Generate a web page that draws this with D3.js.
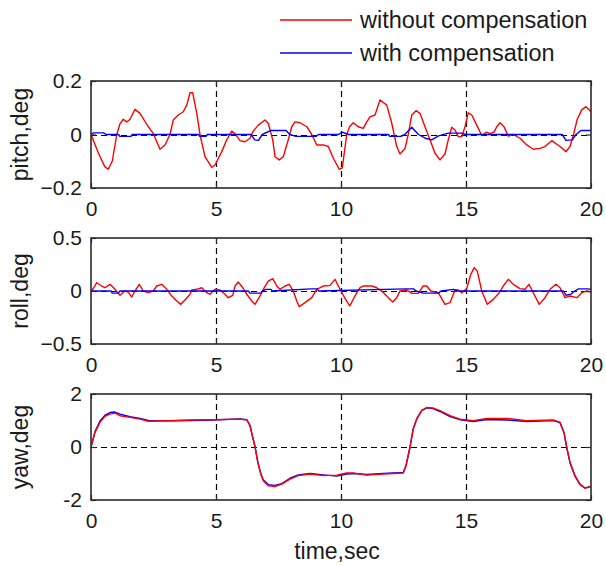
<!DOCTYPE html>
<html>
<head>
<meta charset="utf-8">
<script src="https://cdn.jsdelivr.net/npm/d3@7"></script>
<style>
  html, body { margin: 0; padding: 0; background: #fff; }
  svg { display: block; }
  text { font-family: "Liberation Sans", Arial, sans-serif; fill: #1a1a1a; }
</style>
</head>
<body>
<svg id="chart" width="606" height="566"></svg>
<script>
// ---------------- data ----------------
const timeDomain = [0, 20];
const xTicks = [0, 5, 10, 15, 20];
const seriesNames = ["without compensation", "with compensation"];

const pitchTicks = [-0.2, 0, 0.2];
const rollTicks = [-0.5, 0, 0.5];
const yawTicks = [-2, 0, 2];

// [time (s), value (deg)]
const pitchWithout = [[0,0],[0.3,-0.07],[0.55,-0.12],[0.69,-0.13],[0.85,-0.1],[1.03,0],[1.16,0.04],[1.29,0.057],[1.43,0.047],[1.56,0.057],[1.76,0.094],[1.96,0.079],[2.29,0.029],[2.49,0.004],[2.76,-0.055],[2.96,-0.039],[3.16,0],[3.29,0.054],[3.49,0.073],[3.69,0.085],[3.83,0.11],[3.96,0.156],[4.07,0.156],[4.23,0.079],[4.36,0],[4.56,-0.083],[4.83,-0.123],[4.96,-0.114],[5.23,-0.064],[5.43,-0.02],[5.63,0.0125],[5.76,0.003],[5.96,-0.023],[6.16,-0.027],[6.36,-0.014],[6.49,0.0125],[6.69,0.035],[6.96,0.054],[7.09,0.042],[7.27,-0.02],[7.36,-0.083],[7.53,-0.095],[7.69,-0.083],[7.89,-0.02],[8.03,0.029],[8.16,0.047],[8.36,0.044],[8.63,0.029],[8.83,0],[9.03,-0.039],[9.29,-0.039],[9.49,-0.045],[9.69,-0.088],[9.93,-0.13],[10.05,-0.125],[10.23,0],[10.35,0.03],[10.49,0.044],[10.69,0.029],[10.89,0.023],[11.03,0.047],[11.16,0.066],[11.36,0.073],[11.56,0.129],[11.83,0.11],[12.03,0.042],[12.23,-0.045],[12.36,-0.073],[12.56,-0.052],[12.69,0],[12.83,0.073],[13.0,0.089],[13.16,0.079],[13.36,0.029],[13.56,-0.02],[13.76,-0.07],[13.96,-0.095],[14.16,-0.073],[14.29,-0.02],[14.43,0.027],[14.56,0.017],[14.69,-0.008],[14.83,-0.008],[14.96,0.029],[15.09,0.081],[15.23,0.073],[15.43,0.035],[15.63,-0.004],[15.83,0.009],[15.96,0.003],[16.12,0.009],[16.23,0.029],[16.36,0.044],[16.52,0.029],[16.69,-0.006],[16.89,0],[17.16,-0.014],[17.43,-0.039],[17.69,-0.055],[17.96,-0.052],[18.16,-0.045],[18.43,-0.023],[18.76,-0.045],[19.0,-0.064],[19.16,-0.045],[19.29,-0.004],[19.45,0.057],[19.63,0.092],[19.8,0.104],[20,0.085]];
const pitchWith = [[0,0],[0.1,0.006],[0.5,0.006],[0.6,0],[1.1,0],[1.15,-0.007],[1.6,-0.007],[1.65,0],[4.3,0],[4.35,-0.007],[4.6,-0.007],[4.65,0],[6.4,0],[6.55,-0.02],[6.7,-0.022],[6.85,0],[7.2,0.015],[7.8,0.015],[7.95,0],[8.2,-0.007],[9.0,-0.007],[9.1,0],[9.9,0],[10.05,0.009],[10.3,0],[11.9,0],[11.95,-0.007],[12.4,-0.007],[12.55,0],[12.83,0.027],[13.1,0],[13.4,-0.015],[13.63,-0.02],[13.9,-0.005],[14.3,0.005],[14.8,0.005],[15.0,0],[18.85,0],[19.0,-0.022],[19.25,-0.02],[19.4,0],[19.6,0.015],[20,0.015]];

const rollWithout = [[0,0],[0.07,0.016],[0.23,0.078],[0.43,0.047],[0.56,0.031],[0.76,0.063],[0.96,0.016],[1.16,-0.041],[1.36,0],[1.49,-0.01],[1.63,-0.057],[1.76,0],[1.93,0.063],[2.09,0],[2.29,-0.016],[2.49,0],[2.63,0.047],[2.83,0.063],[3.03,0.016],[3.23,-0.047],[3.43,-0.094],[3.59,-0.126],[3.76,-0.085],[3.96,-0.031],[4.03,0.01],[4.23,0.016],[4.43,0.031],[4.63,-0.016],[4.76,-0.031],[4.96,0.016],[5.16,0.01],[5.36,-0.031],[5.49,-0.063],[5.67,-0.041],[5.76,0.047],[5.89,0.085],[6.07,0.031],[6.23,-0.031],[6.43,-0.094],[6.56,-0.126],[6.76,-0.047],[6.89,0.016],[7.09,0.094],[7.27,0.116],[7.43,0.047],[7.56,0.016],[7.76,0.047],[7.93,0.063],[8.09,0],[8.23,-0.094],[8.33,-0.148],[8.56,-0.11],[8.83,-0.063],[9.03,0.016],[9.29,0.047],[9.56,0.053],[9.76,0.11],[9.93,0.031],[10.0,0],[10.16,-0.07],[10.35,-0.14],[10.56,-0.047],[10.76,0.031],[10.89,0.047],[11.23,0.047],[11.43,0.031],[11.63,0],[11.83,-0.047],[12.07,-0.104],[12.23,-0.063],[12.36,0],[12.63,0.01],[12.83,-0.022],[13.09,-0.022],[13.29,0.047],[13.43,0.047],[13.59,0],[13.89,-0.016],[14.16,-0.126],[14.36,-0.11],[14.56,0.01],[14.69,0.01],[14.83,-0.016],[15.03,0.022],[15.19,0.157],[15.33,0.22],[15.45,0.19],[15.63,0],[15.85,-0.126],[16.09,-0.079],[16.33,-0.016],[16.49,0.047],[16.69,0.11],[16.89,0.063],[17.16,0.022],[17.36,0.016],[17.52,0.063],[17.69,-0.016],[17.93,-0.126],[18.16,-0.063],[18.36,0.016],[18.6,0.063],[18.76,0.031],[18.96,-0.063],[19.16,-0.047],[19.43,-0.063],[19.63,-0.016],[19.83,0],[20,-0.01]];
const rollWith = [[0,0],[0.8,0],[0.85,-0.02],[1.1,-0.02],[1.15,0],[6.3,0],[6.35,-0.02],[6.8,-0.02],[6.85,0],[7.0,0.015],[7.2,0.015],[7.25,0],[8.8,0.02],[9.05,0.02],[9.1,0],[12.6,0.02],[12.9,0.02],[13.0,0],[13.3,-0.02],[13.9,-0.02],[14.0,0],[14.5,0.015],[14.7,0],[18.9,0],[19.0,-0.04],[19.2,-0.03],[19.35,0],[19.5,0.02],[19.9,0.02],[20,0.015]];

const yawWithout = [[0,0],[0.16,0.55],[0.36,0.93],[0.56,1.16],[0.76,1.24],[0.96,1.28],[1.16,1.18],[1.56,1.12],[1.96,1.05],[2.29,0.97],[3.16,0.99],[3.96,1.02],[4.89,1.03],[5.96,1.05],[6.23,1.02],[6.36,0.8],[6.45,0.43],[6.56,0],[6.67,-0.58],[6.79,-1.02],[6.89,-1.27],[7.09,-1.46],[7.36,-1.49],[7.63,-1.4],[7.96,-1.21],[8.29,-1.08],[8.76,-1.02],[9.29,-1.08],[9.83,-1.06],[10.23,-0.98],[10.49,-0.98],[11.03,-1.06],[11.69,-1.02],[12.49,-0.98],[12.6,-0.71],[12.76,-0.01],[12.89,0.68],[13.03,1.05],[13.23,1.37],[13.43,1.49],[13.69,1.47],[13.96,1.37],[14.36,1.18],[14.76,1.05],[15.29,0.99],[15.83,1.08],[16.63,1.08],[17.43,0.99],[18.49,1.02],[18.76,0.93],[18.92,0.55],[19.03,-0.01],[19.16,-0.58],[19.36,-1.08],[19.56,-1.4],[19.76,-1.56],[19.96,-1.49],[20,-1.49]];
const yawWith = [[0,0],[0.16,0.58],[0.36,0.98],[0.56,1.2],[0.76,1.3],[0.96,1.32],[1.16,1.24],[1.56,1.14],[1.96,1.08],[2.29,1.0],[3.16,0.99],[3.96,1.0],[4.89,1.02],[5.96,1.06],[6.23,1.03],[6.36,0.82],[6.45,0.45],[6.56,0.02],[6.67,-0.55],[6.79,-1.0],[6.89,-1.24],[7.09,-1.42],[7.36,-1.45],[7.63,-1.38],[7.96,-1.18],[8.29,-1.05],[8.76,-1.0],[9.29,-1.05],[9.83,-1.1],[10.23,-1.02],[10.49,-1.0],[11.03,-1.04],[11.69,-1.0],[12.49,-0.96],[12.6,-0.7],[12.76,0.0],[12.89,0.7],[13.03,1.07],[13.23,1.38],[13.43,1.48],[13.69,1.45],[13.96,1.34],[14.36,1.15],[14.76,1.03],[15.29,0.96],[15.83,1.04],[16.63,1.02],[17.43,0.96],[18.49,1.0],[18.76,0.92],[18.92,0.54],[19.03,-0.02],[19.16,-0.6],[19.36,-1.1],[19.56,-1.42],[19.76,-1.54],[19.96,-1.5],[20,-1.49]];

const panels = [
  { label: "pitch,deg", domain: [-0.2, 0.2], ticks: pitchTicks, tickFmt: d => d === 0 ? "0" : d3.format(".1f")(d), without: pitchWithout, with: pitchWith, blueOnTop: true, top: 81, bottom: 188 },
  { label: "roll,deg", domain: [-0.5, 0.5], ticks: rollTicks, tickFmt: d => d === 0 ? "0" : d3.format(".1f")(d), without: rollWithout, with: rollWith, blueOnTop: true, top: 238, bottom: 344 },
  { label: "yaw,deg", domain: [-2, 2], ticks: yawTicks, tickFmt: d => String(d), without: yawWithout, with: yawWith, blueOnTop: false, top: 394, bottom: 500 }
];

// ---------------- drawing ----------------
const svg = d3.select("#chart");
const left = 91, right = 591;
const RED = "#ff0000", BLUE = "#0000ff", FRAME = "#2b2b2b";
const x = d3.scaleLinear().domain(timeDomain).range([left, right]);
const crisp = v => Math.round(v) + 0.5;

panels.forEach((p, i) => {
  const y = d3.scaleLinear().domain(p.domain).range([p.bottom, p.top]);
  const g = svg.append("g");
  const clipId = "clip" + i;
  svg.append("clipPath").attr("id", clipId).append("rect")
    .attr("x", left).attr("y", p.top).attr("width", right - left).attr("height", p.bottom - p.top);

  // grid
  const grid = g.append("g").attr("stroke", "#000").attr("stroke-width", 1.2).attr("stroke-dasharray", "6,4");
  grid.selectAll("line.vx").data(xTicks.filter(t => t > timeDomain[0] && t < timeDomain[1]))
    .join("line").attr("x1", d => crisp(x(d))).attr("x2", d => crisp(x(d))).attr("y1", p.top).attr("y2", p.bottom);
  grid.selectAll("line.hy").data(p.ticks.filter(t => t > p.domain[0] && t < p.domain[1]))
    .join("line").attr("class", "hy").attr("x1", left).attr("x2", right).attr("y1", d => crisp(y(d))).attr("y2", d => crisp(y(d)));

  const line = d3.line().x(d => x(d[0])).y(d => y(d[1]));
  const lines = g.append("g").attr("clip-path", `url(#${clipId})`).attr("fill", "none").attr("stroke-width", 1.4);
  const order = p.blueOnTop ? [[p.without, RED], [p.with, BLUE]] : [[p.with, BLUE], [p.without, RED]];
  order.forEach(([data, col]) => {
    lines.append("path").datum(data).attr("d", line).attr("stroke", col).attr("stroke-linejoin", "round");
  });

  // axes (ticks inward)
  const axB = g.append("g").attr("transform", `translate(0,${p.bottom})`)
    .call(d3.axisBottom(x).tickValues(xTicks).tickSize(-5).tickPadding(13).tickFormat(d3.format("d")));
  const axT = g.append("g").attr("transform", `translate(0,${p.top})`)
    .call(d3.axisTop(x).tickValues(xTicks).tickSize(-5).tickFormat(""));
  const axL = g.append("g").attr("transform", `translate(${left},0)`)
    .call(d3.axisLeft(y).tickValues(p.ticks).tickSize(-5).tickPadding(9).tickFormat(p.tickFmt));
  const axR = g.append("g").attr("transform", `translate(${right},0)`)
    .call(d3.axisRight(y).tickValues(p.ticks).tickSize(-5).tickFormat(""));
  [axB, axT, axL, axR].forEach(a => {
    a.select(".domain").remove();
    a.selectAll(".tick line").attr("stroke", FRAME).attr("stroke-width", 1.2);
    a.selectAll("text").attr("font-size", 21).attr("fill", "#1a1a1a")
      .style("font-family", '"Liberation Sans", Arial, sans-serif');
  });

  // frame
  g.append("rect").attr("x", left).attr("y", p.top).attr("width", right - left).attr("height", p.bottom - p.top)
    .attr("fill", "none").attr("stroke", FRAME).attr("stroke-width", 1.6);

  // y label
  g.append("text")
    .attr("transform", `translate(20,${(p.top + p.bottom) / 2}) rotate(-90)`)
    .attr("text-anchor", "middle").attr("dy", "0.35em")
    .attr("font-size", 23).text(p.label);
});

// x label
svg.append("text").attr("x", 337).attr("y", 551).attr("dy", "0.35em")
  .attr("text-anchor", "middle").attr("font-size", 23).text("time,sec");

// legend
const legend = svg.append("g");
[[seriesNames[0], RED, 20], [seriesNames[1], BLUE, 53]].forEach(([name, col, ly]) => {
  legend.append("line").attr("x1", 280).attr("x2", 352).attr("y1", ly).attr("y2", ly)
    .attr("stroke", col).attr("stroke-width", 1.4);
  legend.append("text").attr("x", 360).attr("y", ly).attr("dy", "0.35em")
    .attr("font-size", 23.5).text(name);
});
</script>
</body>
</html>
